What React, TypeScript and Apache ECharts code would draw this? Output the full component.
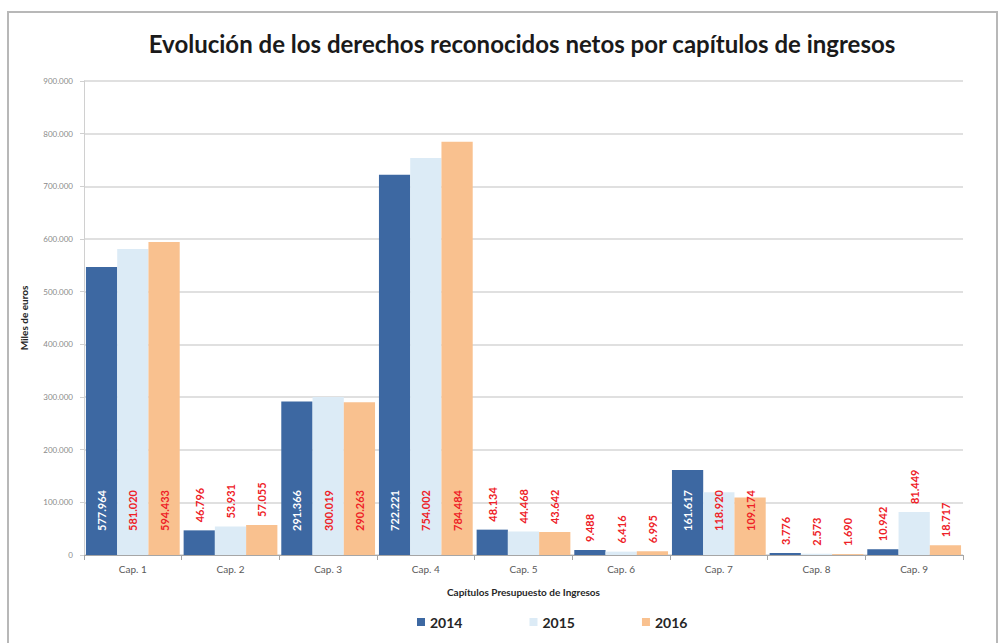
import React, { useEffect, useRef } from "react";
import * as echarts from "echarts";

const categories = ["Cap. 1", "Cap. 2", "Cap. 3", "Cap. 4", "Cap. 5", "Cap. 6", "Cap. 7", "Cap. 8", "Cap. 9"];
const years = ["2014", "2015", "2016"];
// bar heights as drawn (miles de euros)
const values2014 = [547000, 46796, 291366, 722221, 48134, 9488, 161617, 3776, 10942];
const values2015 = [581020, 53931, 300019, 754002, 44468, 6416, 118920, 2573, 81449];
const values2016 = [594433, 57055, 290263, 784484, 43642, 6995, 109174, 1690, 18717];
// data label texts as printed
const labels2014 = ["577.964", "46.796", "291.366", "722.221", "48.134", "9.488", "161.617", "3.776", "10.942"];
const labels2015 = ["581.020", "53.931", "300.019", "754.002", "44.468", "6.416", "118.920", "2.573", "81.449"];
const labels2016 = ["594.433", "57.055", "290.263", "784.484", "43.642", "6.995", "109.174", "1.690", "18.717"];
const yTicks = [0, 100000, 200000, 300000, 400000, 500000, 600000, 700000, 800000, 900000];

const colors = ["#3d68a2", "#dcebf6", "#f9c18f"];
const RED = "#ee2127";
const FONT = "Lato, 'Open Sans', sans-serif";

function fmt(v: number) {
  if (v === 0) return "0";
  const s = String(Math.round(v));
  return s.replace(/\B(?=(\d{3})+(?!\d))/g, ".");
}

function makeData(vals: number[], labels: string[], insideColor: string) {
  return vals.map((v, i) => {
    const big = v >= 100000;
    return {
      value: v,
      label: {
        show: true,
        formatter: () => labels[i],
        rotate: 90,
        position: big ? "insideBottom" : "top",
        distance: big ? 24 : 8,
        align: "left",
        verticalAlign: "middle",
        color: big ? insideColor : RED,
        fontFamily: FONT,
        fontWeight: "bold",
        fontSize: 11,
      },
    };
  });
}

export default function App() {
  const ref = useRef<HTMLDivElement>(null);
  useEffect(() => {
    if (!ref.current) return;
    const chart = echarts.init(ref.current, null, { renderer: "svg" });
    const seriesVals = [values2014, values2015, values2016];
    const seriesLabels = [labels2014, labels2015, labels2016];
    const insideColors = ["#ffffff", RED, RED];
    chart.setOption({
      animation: false,
      backgroundColor: "#ffffff",
      title: {
        text: "Evolución de los derechos reconocidos netos por capítulos de ingresos",
        left: 517,
        textAlign: "center",
        top: 26,
        textStyle: { fontFamily: FONT, fontWeight: "bold", fontSize: 24, color: "#1a1a1a" },
      },
      graphic: [
        {
          type: "rect",
          shape: { x: 8, y: 12, width: 989, height: 640 },
          style: { fill: "none", stroke: "#b8b8b8", lineWidth: 2 },
          silent: true,
        },
      ],
      legend: {
        data: years,
        left: 412,
        top: 610,
        icon: "rect",
        itemWidth: 8,
        itemHeight: 8,
        itemGap: 67,
        textStyle: { fontFamily: FONT, fontWeight: "bold", fontSize: 14, color: "#262626" },
      },
      grid: { left: 84, right: 37, top: 81, bottom: 88, containLabel: false },
      xAxis: {
        type: "category",
        data: categories,
        name: "Capítulos Presupuesto de Ingresos",
        nameLocation: "middle",
        nameGap: 32,
        nameTextStyle: { fontFamily: FONT, fontWeight: "bold", fontSize: 10, color: "#262626" },
        axisLine: { lineStyle: { color: "#a6a6a6" } },
        axisTick: { show: true, alignWithLabel: false, lineStyle: { color: "#a6a6a6" }, length: 5 },
        axisLabel: { fontFamily: FONT, fontSize: 10, color: "#595959", margin: 9 },
      },
      yAxis: {
        type: "value",
        min: 0,
        max: 900000,
        interval: 100000,
        name: "Miles de euros",
        nameLocation: "middle",
        nameGap: 55,
        nameRotate: 90,
        nameTextStyle: { fontFamily: FONT, fontWeight: "bold", fontSize: 10, color: "#262626" },
        axisLine: { show: true, lineStyle: { color: "#d0d0d0" } },
        axisTick: { show: true, length: 4, lineStyle: { color: "#d0d0d0" } },
        axisLabel: {
          fontFamily: FONT,
          fontSize: 8,
          color: "#8a8a8a",
          margin: 11,
          formatter: (v: number) => (yTicks.includes(v) ? fmt(v) : ""),
        },
        splitLine: { lineStyle: { color: "#d6d6d6", width: 1.5 } },
      },
      series: years.map((y, k) => ({
        name: y,
        type: "bar",
        barGap: "0%",
        barCategoryGap: "4%",
        itemStyle: { color: colors[k] },
        data: makeData(seriesVals[k], seriesLabels[k], insideColors[k]),
      })),
    });
    return () => chart.dispose();
  }, []);
  return <div ref={ref} style={{ position: "absolute", left: 0, top: 0, width: 1000, height: 643 }} />;
}
